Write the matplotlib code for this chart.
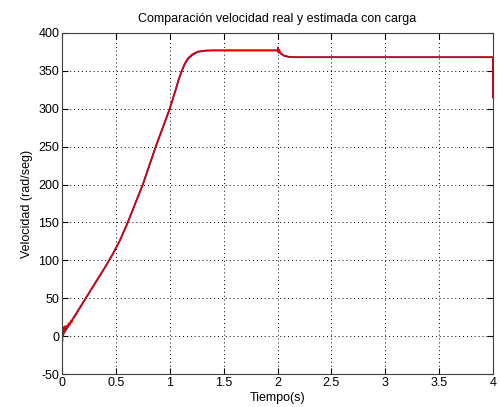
import matplotlib
matplotlib.use("Agg")
import matplotlib.pyplot as plt

plt.rcParams['font.family'] = ['Liberation Sans', 'DejaVu Sans']
plt.rcParams['axes.unicode_minus'] = False

# velocidad real (con ruido al arranque)
t_real = [0, 0.004, 0.008, 0.012, 0.016, 0.02, 0.025, 0.03, 0.04, 0.05, 0.06, 0.07, 0.08, 0.09,
          0.10, 0.12, 0.14, 0.17, 0.22, 0.33, 0.40, 0.47, 0.54, 0.61, 0.68, 0.75, 0.81, 0.87, 0.935,
          1.00, 1.055, 1.08, 1.11, 1.14, 1.17, 1.21, 1.26, 1.33, 1.40, 2.00, 2.004, 2.008, 2.015,
          2.03, 2.05, 2.08, 2.11, 2.15, 3.999, 4.0]
w_real = [0, -7, 10, 0, 12, 4, 13, 8, 14, 11, 17, 14, 20, 18,
          23, 26, 31, 38, 50, 75, 91, 108, 127, 150, 175, 200, 225, 250, 275,
          300, 325, 338, 350, 360, 367, 372, 375.5, 377, 377, 377, 381, 374, 378,
          373, 371, 369.5, 368.5, 368, 368, 315]

# velocidad estimada
t_est = [0, 0.11, 0.22, 0.33, 0.40, 0.47, 0.54, 0.61, 0.68, 0.75, 0.81, 0.87, 0.935, 1.00, 1.055,
         1.08, 1.11, 1.14, 1.17, 1.21, 1.26, 1.33, 1.40, 2.00, 2.03, 2.06, 2.10, 2.15, 3.999, 4.0]
w_est = [0, 25, 50, 75, 91, 108, 127, 150, 175, 200, 225, 250, 275, 300, 325,
         337, 349, 359, 366, 371, 375, 376.5, 377, 377, 373, 370, 368.5, 368, 368, 315]

fig = plt.figure(figsize=(5.0, 4.07), dpi=100)
ax = fig.add_axes([0.124, 0.081, 0.862, 0.838])

ax.plot(t_est, w_est, color='#40207a', lw=1.3)
ax.plot(t_real, w_real, color='#e00000', lw=1.1)

ax.set_xlim(0, 4)
ax.set_ylim(-50, 400)
ax.set_xticks([0, 0.5, 1, 1.5, 2, 2.5, 3, 3.5, 4])
ax.set_xticklabels(['0', '0.5', '1', '1.5', '2', '2.5', '3', '3.5', '4'])
ax.set_yticks(range(-50, 401, 50))
ax.tick_params(direction='in', top=True, right=True, length=4, labelsize=9, pad=2)
ax.grid(True, linestyle=(0, (1, 3)), color='black', lw=0.7)
for s in ax.spines.values():
    s.set_color('#404040')

ax.set_title('Comparación velocidad real y estimada con carga', fontsize=9, pad=8)
ax.set_xlabel('Tiempo(s)', fontsize=9, labelpad=2)
ax.set_ylabel('Velocidad (rad/seg)', fontsize=9, labelpad=4)

fig.savefig('out.png', dpi=100, facecolor='white')
